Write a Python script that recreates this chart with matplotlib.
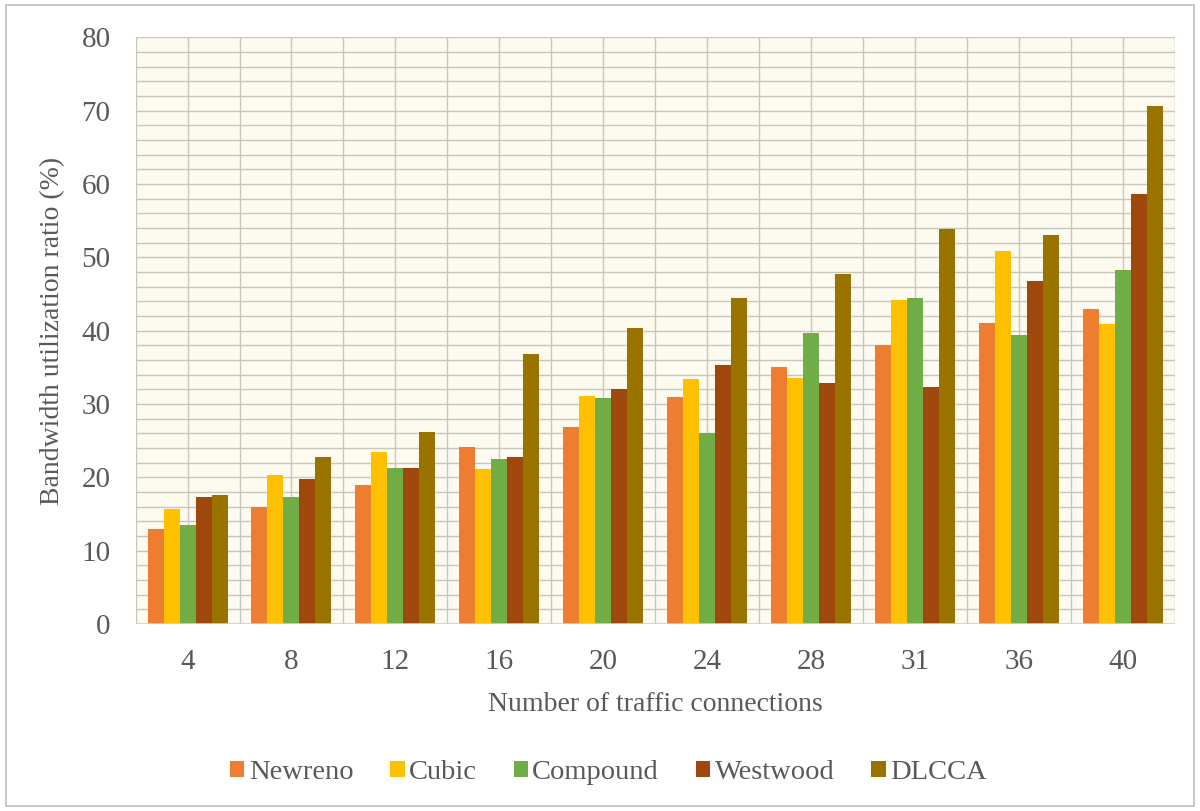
import numpy as np
import matplotlib.pyplot as plt
from matplotlib.patches import Rectangle

plt.rcParams['font.family'] = ['Liberation Serif', 'DejaVu Serif']

connections = ['4', '8', '12', '16', '20', '24', '28', '31', '36', '40']
newreno = [13.0, 16.0, 19.0, 24.1, 26.9, 31.0, 35.1, 38.1, 41.1, 43.0]
cubic = [15.7, 20.3, 23.5, 21.1, 31.1, 33.4, 33.6, 44.2, 50.9, 40.9]
compound = [13.5, 17.3, 21.3, 22.5, 30.8, 26.1, 39.7, 44.5, 39.4, 48.3]
westwood = [17.3, 19.8, 21.3, 22.8, 32.1, 35.3, 32.9, 32.3, 46.8, 58.7]
dlcca = [17.6, 22.8, 26.2, 36.8, 40.4, 44.5, 47.7, 53.8, 53.1, 70.7]

series = [('Newreno', newreno, '#ED7D31'),
          ('Cubic', cubic, '#FFC000'),
          ('Compound', compound, '#70AD47'),
          ('Westwood', westwood, '#9E480E'),
          ('DLCCA', dlcca, '#997300')]

fig = plt.figure(figsize=(12, 8.11), dpi=100)
ax = fig.add_axes([0.113, 0.2306, 0.866, 0.7234])
ax.set_facecolor('#FDFBEF')

# outer frame round the whole chart
fig.patches.append(Rectangle((0.005, 0.006), 0.99, 0.988, transform=fig.transFigure,
                             fill=False, edgecolor='#BFBFBF', linewidth=1.2))

x = np.arange(len(connections))
w = 0.154
for i, (name, vals, col) in enumerate(series):
    ax.bar(x + (i - 2) * w, vals, w, color=col, label=name, zorder=3)

ax.set_xlim(-0.5, len(connections) - 0.5)
ax.set_ylim(0, 80)
ax.set_yticks(np.arange(0, 81, 10))
ax.set_yticks(np.arange(0, 81, 2), minor=True)
ax.set_xticks(x)
ax.set_xticks(np.arange(-0.5, len(connections), 0.5), minor=True)
ax.set_xticklabels(connections)
ax.grid(which='both', color='#C9C6BC', linewidth=1.0, zorder=0)
ax.tick_params(which='both', length=0)
ax.tick_params(axis='y', labelsize=21, labelcolor='#595959', pad=18)
ax.tick_params(axis='x', labelsize=21, labelcolor='#595959', pad=18)
for s in ax.spines.values():
    s.set_visible(False)
ax.axhline(0, color='#D0D0D0', linewidth=1.2, zorder=4)

ax.set_xlabel('Number of traffic connections', fontsize=20, color='#595959', labelpad=12)
ax.set_ylabel('Bandwidth utilization ratio (%)', fontsize=20, color='#595959', labelpad=12)

fig.legend(loc='center', bbox_to_anchor=(0.507, 0.047), ncol=5, frameon=False,
           fontsize=20.5, labelcolor='#595959', handlelength=0.5, handleheight=0.5,
           handletextpad=0.15, columnspacing=1.3)

fig.savefig('out.png', dpi=100)
